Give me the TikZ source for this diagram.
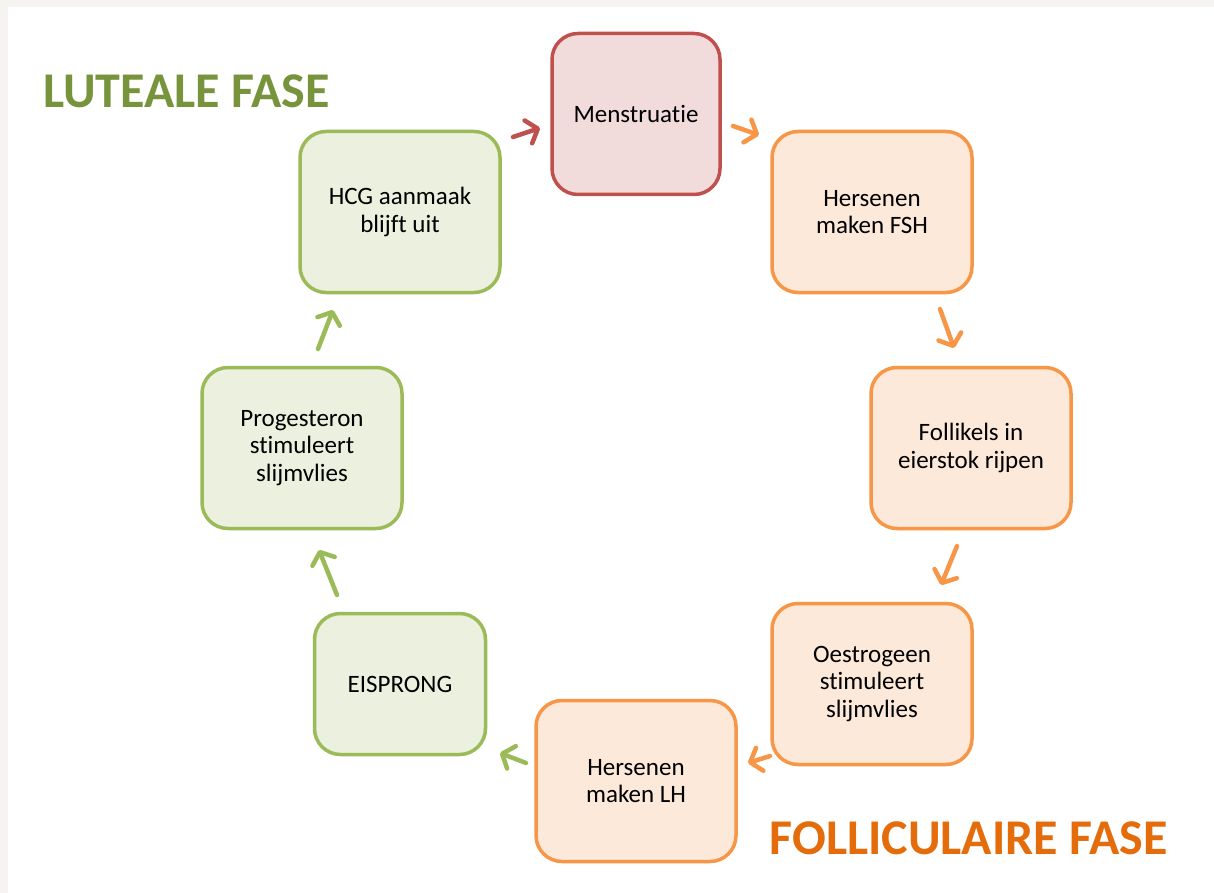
\documentclass[tikz,border=0pt]{standalone}
\usepackage{fontspec}
\setmainfont{Carlito}[Ligatures=NoCommon]
\usetikzlibrary{arrows.meta}
\definecolor{redB}{HTML}{C0504D}
\definecolor{redF}{HTML}{F2DCDB}
\definecolor{oraB}{HTML}{F79646}
\definecolor{oraF}{HTML}{FDE9D9}
\definecolor{grnB}{HTML}{9BBB59}
\definecolor{grnF}{HTML}{EBF1DE}
\definecolor{grnT}{HTML}{77933C}
\definecolor{oraT}{HTML}{E46C0A}
\definecolor{bgGray}{HTML}{F5F4F0}
\tikzset{
  stagebox/.style={rounded corners=26pt, line width=3.5pt, minimum width=200pt, minimum height=161pt,
    align=center, inner sep=2pt, text=black, font=\fontsize{25}{27.5}\selectfont},
  redbox/.style={stagebox, draw=redB, fill=redF},
  orabox/.style={stagebox, draw=oraB, fill=oraF},
  grnbox/.style={stagebox, draw=grnB, fill=grnF},
  flow/.style={line width=4.5pt, line cap=round, -{Straight Barb[length=10pt,width=24pt,round]}},
  phase/.style={font=\fontsize{50}{58}\selectfont\bfseries, inner sep=0pt},
}
\begin{document}
\begin{tikzpicture}[x=1pt,y=-1pt]
\useasboundingbox (0,0) rectangle (1214,893);
\fill[bgGray] (0,0) rectangle (1214,893);
\fill[white] (8,7) rectangle (1214,893);

\node[redbox, minimum width=168pt] (men) at (636,114) {Menstruatie};
\node[orabox] (fsh) at (872,212) {Hersenen\\maken FSH};
\node[orabox] (fol) at (971,448) {Follikels in\\eierstok rijpen};
\node[orabox] (oes) at (872,684) {Oestrogeen\\stimuleert\\slijmvlies};
\node[orabox] (lh) at (636,781) {Hersenen\\maken LH};
\node[grnbox, minimum width=171pt, minimum height=141pt] (eis) at (400,684) {EISPRONG};
\node[grnbox] (pro) at (302,448) {Progesteron\\stimuleert\\slijmvlies};
\node[grnbox] (hcg) at (400,212) {HCG aanmaak\\blijft uit};

\node[phase, text=grnT, anchor=base west] (lut) at (43,108) {LUTEALE FASE};
\node[phase, text=oraT, anchor=base east] (folf) at (1168,854) {FOLLICULAIRE FASE};

\coordinate (a1s) at (513,137); \coordinate (a1e) at (540,128);
\coordinate (a2s) at (733,126); \coordinate (a2e) at (759,135);
\coordinate (a3s) at (940,309); \coordinate (a3e) at (954,348);
\coordinate (a4s) at (957,546); \coordinate (a4e) at (941,585);
\coordinate (a5s) at (770,756); \coordinate (a5e) at (748,763);
\coordinate (a6s) at (526,763); \coordinate (a6e) at (500,753);
\coordinate (a7s) at (337,595); \coordinate (a7e) at (319,550);
\coordinate (a8s) at (318,349); \coordinate (a8e) at (333,310);

\draw[flow, redB] (a1s) -- (a1e);
\draw[flow, oraB] (a2s) -- (a2e);
\draw[flow, oraB] (a3s) -- (a3e);
\draw[flow, oraB] (a4s) -- (a4e);
\draw[flow, oraB] (a5s) -- (a5e);
\draw[flow, grnB] (a6s) -- (a6e);
\draw[flow, grnB] (a7s) -- (a7e);
\draw[flow, grnB] (a8s) -- (a8e);
\end{tikzpicture}
\end{document}
